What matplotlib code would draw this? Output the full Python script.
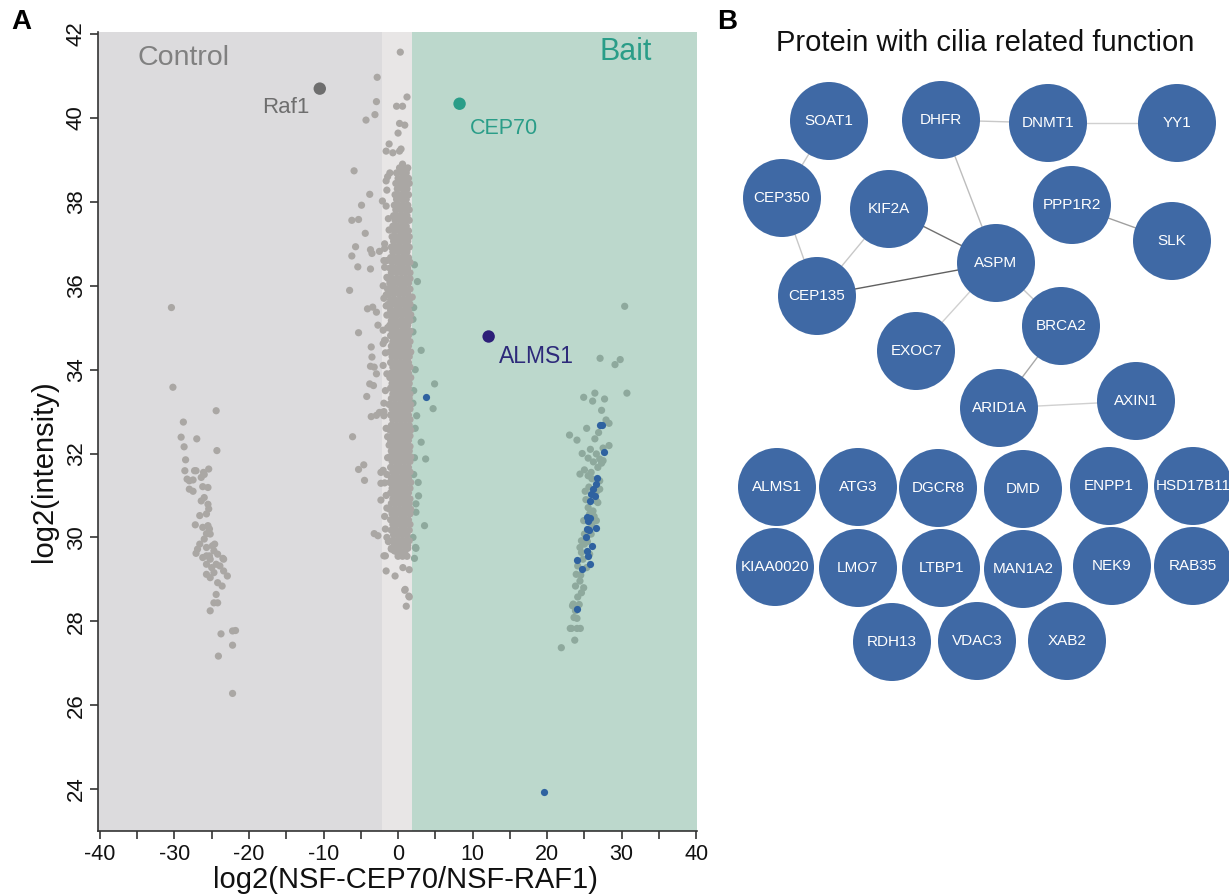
import matplotlib
matplotlib.use("Agg")
import matplotlib.pyplot as plt
import matplotlib.patches as patches
import numpy as np

plt.rcParams['font.family'] = ['Liberation Sans', 'DejaVu Sans']

# thresholds of the shaded regions (log2 ratio)
control_max = -2.2
bait_min = 1.9

# dense core of unchanged proteins: one y per row, x positions in that row
core_row_y = [38.81, 38.69, 38.56, 38.44, 38.31, 38.17, 38.06, 37.92, 37.81, 37.67,
              37.56, 37.42, 37.31, 37.17, 37.06, 36.92, 36.81, 36.67, 36.56, 36.42,
              36.31, 36.17, 36.06, 35.92, 35.81, 35.67, 35.56, 35.42, 35.31, 35.17,
              35.06, 34.92, 34.81, 34.67, 34.56, 34.42, 34.31, 34.17, 34.06, 33.92,
              33.81, 33.67, 33.56, 33.42, 33.31, 33.17, 33.06, 32.92, 32.81, 32.67,
              32.56, 32.42, 32.31, 32.17, 32.06, 31.92, 31.81, 31.67, 31.56, 31.42,
              31.31, 31.17, 31.06, 30.92, 30.81, 30.67, 30.56, 30.42, 30.31, 30.17,
              30.06, 29.92, 29.81, 29.67, 29.55]
core_row_x = [[0.2, 0.8, 1.3], [-0.2, 0.5, 1.1], [0.0, 0.7, 1.4], [-0.3, 0.3, 0.9, 1.5],
              [-0.1, 0.6, 1.2], [-0.4, 0.2, 0.8, 1.4], [-0.2, 0.5, 1.1], [-0.5, 0.1, 0.7, 1.3],
              [-0.3, 0.4, 1.0, 1.5], [-0.6, 0.0, 0.6, 1.2], [-0.4, 0.3, 0.9, 1.5],
              [-0.7, -0.1, 0.5, 1.1], [-0.5, 0.2, 0.8, 1.4], [-0.8, -0.2, 0.4, 1.0, 1.5],
              [-0.6, 0.1, 0.7, 1.3], [-0.9, -0.3, 0.3, 0.9, 1.5], [-0.7, 0.0, 0.6, 1.2],
              [-1.0, -0.4, 0.2, 0.8, 1.4], [-0.8, -0.1, 0.5, 1.1, 1.6],
              [-1.1, -0.5, 0.1, 0.7, 1.3], [-0.9, -0.2, 0.4, 1.0, 1.6],
              [-1.3, -0.7, -0.1, 0.5, 1.1, 1.6], [-1.1, -0.5, 0.2, 0.8, 1.4],
              [-1.4, -0.8, -0.2, 0.4, 1.0, 1.6], [-1.2, -0.6, 0.1, 0.7, 1.3],
              [-1.0, -0.4, 0.3, 0.9, 1.5], [-1.3, -0.7, -0.1, 0.5, 1.1, 1.6],
              [-1.0, -0.3, 0.3, 0.9, 1.4], [-1.2, -0.6, 0.0, 0.6, 1.2, 1.7],
              [-0.9, -0.3, 0.4, 1.0, 1.6], [-1.1, -0.5, 0.1, 0.7, 1.3],
              [-0.8, -0.2, 0.5, 1.1, 1.6], [-1.0, -0.4, 0.2, 0.8, 1.4],
              [-0.7, -0.1, 0.5, 1.1, 1.6], [-0.9, -0.3, 0.3, 0.9, 1.4],
              [-1.1, -0.5, 0.1, 0.7, 1.2, 1.7], [-0.8, -0.2, 0.4, 1.0, 1.5],
              [-1.0, -0.4, 0.2, 0.8, 1.4], [-0.7, -0.1, 0.5, 1.1, 1.6],
              [-0.9, -0.3, 0.3, 0.9, 1.4], [-1.1, -0.5, 0.1, 0.7, 1.2, 1.7],
              [-0.8, -0.2, 0.4, 1.0, 1.5], [-1.0, -0.4, 0.2, 0.8, 1.4],
              [-0.7, -0.1, 0.5, 1.1, 1.6], [-0.9, -0.3, 0.3, 0.9, 1.5],
              [-1.2, -0.5, 0.1, 0.7, 1.2, 1.7], [-0.8, -0.2, 0.4, 1.0, 1.6],
              [-1.0, -0.4, 0.2, 0.8, 1.4], [-0.7, -0.1, 0.5, 1.1, 1.6],
              [-0.9, -0.3, 0.3, 0.9, 1.5], [-1.1, -0.5, 0.1, 0.7, 1.2, 1.7],
              [-0.8, -0.2, 0.4, 1.0, 1.6], [-1.0, -0.4, 0.2, 0.8, 1.4],
              [-0.7, -0.1, 0.5, 1.1, 1.6], [-0.9, -0.3, 0.3, 0.9, 1.5],
              [-1.1, -0.5, 0.1, 0.7, 1.2, 1.7], [-0.8, -0.2, 0.4, 1.0, 1.6],
              [-1.0, -0.4, 0.2, 0.8, 1.4], [-0.7, -0.1, 0.5, 1.1, 1.6],
              [-0.9, -0.3, 0.3, 0.9, 1.4], [-1.1, -0.5, 0.1, 0.7, 1.2, 1.7],
              [-0.8, -0.2, 0.4, 1.0, 1.6], [-1.0, -0.4, 0.2, 0.8, 1.4],
              [-0.7, -0.1, 0.5, 1.1, 1.6], [-0.9, -0.3, 0.3, 0.9, 1.5],
              [-1.1, -0.5, 0.1, 0.7, 1.2, 1.7], [-0.8, -0.2, 0.4, 1.0, 1.6],
              [-1.0, -0.4, 0.2, 0.8, 1.4], [-0.7, -0.1, 0.5, 1.1, 1.6],
              [-0.9, -0.3, 0.3, 0.9, 1.5], [-0.6, 0.0, 0.6, 1.2], [-0.8, -0.2, 0.4, 1.0, 1.5],
              [-0.5, 0.1, 0.7, 1.3], [-0.3, 0.3, 0.9], [0.0, 0.6, 1.2]]

# scattered proteins around the core and in the two outer clusters
other_x = [0.3, -2.8, -2.9, -3.1, -4.3, 1.2, -0.2, 0.6, 0.2, 0.9, 0.0, -1.2, -1.6, -0.7, 0.2,
           0.4, 0.6, 1.1, -1.1, -1.4,
           -5.9, -3.8, -2.1, -1.5, -4.9, -6.2, -5.3, -4.4, -1.2, -5.7, -6.2, -3.7, -3.5, -2.5,
           -1.8, -5.4, -3.7, -1.8, -1.5, -6.5, -4.1, -3.4, -2.9, -1.6, -1.6, -5.3, -2.7, -2.0,
           -1.8, -2.0, -3.6, -3.5, -3.7, -3.2, -2.9, -3.8, -3.3, -4.2, -3.6, -2.9, -2.5, -6.1,
           -5.3, -4.6, -4.5, -2.3, -2.3, -2.3, -3.2, -2.7, -1.9, -0.9, -0.5,
           -1.6, -1.8, -1.5, -1.9, -1.4, -1.7, -1.5, -1.9, -1.6, -1.4, -1.8, -1.5, -1.7, -1.3,
           -1.6, -1.3, -1.2, -1.9, -1.5, -2.0, -1.7, -1.9, -1.4, -2.0, -1.6, -1.8, -1.5, -2.0,
           -1.7, -1.9, -1.5,
           -1.7, -0.9, -0.1, 0.4, 0.9, 1.3, -1.6, -0.4, 0.65, 1.5, 0.9, 1.5, 1.1, 0.95, 1.45,
           2.4, 1.9, 2.1, 3.1, 4.9, 4.7, 3.1, 3.7, 2.7, 2.75, 3.55, 2.35, 2.0, 2.0, 2.3, 2.1,
           2.5, 2.2, 2.4, 2.0, 2.3, 2.6, 2.2, 2.1, 2.4, 2.0, 2.2,
           -30.4, -30.2, -24.4, -28.8, -29.1, -27.0, -28.7, -24.3, -28.5, -28.6, -27.3, -27.1,
           -26.1, -25.4, -28.3, -28.0, -27.5, -26.4, -26.0, -28.0, -27.5, -26.2, -25.5, -26.4,
           -26.0, -25.5, -25.4, -25.7, -26.6, -27.2, -26.2, -25.5, -25.3, -25.7, -25.2, -26.0,
           -26.6, -26.9, -25.7, -24.9, -24.6, -27.1, -26.2, -25.3, -23.5, -25.7, -25.2, -24.7,
           -24.2, -23.4, -25.7, -25.0, -24.4, -23.9, -24.7, -23.4, -22.9, -25.7, -25.2, -24.2,
           -23.6, -24.4, -24.2, -24.7, -25.2, -23.75, -22.2, -21.8, -22.2, -24.1, -22.2,
           30.4, 27.1, 29.1, 29.8, 30.7, 24.9, 26.4, 27.7, 26.1, 27.3, 27.9, 28.3, 23.0, 24.0,
           26.4, 27.5, 28.3, 24.7, 25.5, 26.6, 27.05, 27.5, 27.3, 26.8, 25.0, 24.4, 25.5, 25.9,
           27.05, 26.7, 27.05, 26.6, 26.8, 25.5, 26.15, 25.7, 26.6, 25.0, 25.9, 24.6, 24.4,
           25.0, 24.6, 24.8, 24.1, 25.3, 23.9, 24.4, 23.8, 24.6, 24.1, 23.5, 23.8, 24.0, 23.25,
           24.0, 24.45, 23.7, 21.9, 23.4, 23.1, 23.6, 25.2, 25.6, 26.2, 25.8, 26.0, 25.4, 26.3,
           25.1, 24.9, 25.7, 24.5, 24.9, 24.3, 26.0, 26.9, 25.3]
other_y = [41.57, 40.97, 40.39, 40.08, 39.95, 40.5, 40.28, 40.28, 39.87, 39.83, 39.64, 39.38,
           39.21, 39.17, 39.21, 39.26, 38.9, 38.76, 38.69, 38.6,
           38.74, 38.18, 38.02, 38.28, 37.92, 37.56, 37.58, 37.25, 37.33, 36.93, 36.71, 36.86,
           36.77, 36.82, 36.89, 36.45, 36.4, 36.44, 36.6, 35.89, 35.45, 35.49, 35.37, 35.78,
           35.52, 34.88, 35.06, 34.94, 34.70, 34.62, 34.54, 34.30, 34.08, 34.06, 33.90, 33.66,
           33.62, 33.36, 32.88, 32.91, 32.98, 32.40, 31.62, 31.73, 31.36, 31.55, 31.29, 30.89,
           30.09, 30.04, 29.56, 29.72, 29.68,
           37.9, 37.0, 36.2, 35.7, 35.0, 34.4, 33.9, 33.2, 32.6, 31.9, 31.3, 30.7, 30.2, 29.9,
           38.5, 37.6, 32.2, 36.6, 35.3, 34.1, 33.5, 32.9, 32.4, 31.6, 31.0, 30.5, 30.0, 36.0,
           34.7, 33.0, 31.5,
           29.56, 29.74, 29.68, 29.60, 29.62, 29.74, 29.2, 29.08, 29.28, 29.23, 28.74, 28.58,
           28.36, 28.76, 28.6,
           29.74, 35.73, 35.48, 34.46, 33.66, 33.07, 32.27, 31.87, 31.31, 30.99, 30.28, 29.76,
           35.2, 34.9, 34.0, 33.5, 32.9, 31.9, 30.6, 30.0, 32.6, 36.1, 36.5, 31.5, 30.8, 33.2,
           29.5,
           35.48, 33.58, 33.02, 32.75, 32.39, 32.35, 32.16, 32.07, 31.85, 31.59, 31.59, 31.59,
           31.55, 31.63, 31.39, 31.35, 31.37, 31.43, 31.5, 31.15, 31.1, 31.21, 31.19, 30.87,
           30.95, 30.79, 30.68, 30.56, 30.52, 30.30, 30.24, 30.28, 30.20, 30.09, 30.08, 29.96,
           29.84, 29.72, 29.76, 29.80, 29.84, 29.62, 29.52, 29.56, 29.5, 29.56, 29.48, 29.68,
           29.60, 29.48, 29.36, 29.28, 29.36, 29.32, 29.16, 29.2, 29.08, 29.12, 29.04, 28.92,
           28.84, 28.64, 28.44, 28.44, 28.25, 27.70, 27.77, 27.78, 27.43, 27.17, 26.28,
           35.51, 34.27, 34.12, 34.24, 33.44, 33.34, 33.44, 33.30, 33.25, 33.03, 32.8, 32.72,
           32.44, 32.32, 32.35, 32.13, 32.19, 32.0, 31.89, 31.99, 31.87, 31.83, 31.77, 31.67,
           31.61, 31.51, 31.47, 31.55, 31.35, 31.11, 31.15, 30.87, 30.83, 30.71, 30.63, 30.56,
           30.4, 30.08, 30.08, 29.92, 29.76, 29.84, 29.64, 29.48, 29.32, 29.28, 29.12, 28.96,
           28.84, 28.68, 28.58, 28.41, 28.25, 28.07, 27.83, 27.83, 27.83, 27.55, 27.37, 28.37,
           27.83, 28.09, 30.9, 31.2, 31.8, 32.1, 30.3, 29.9, 30.5, 31.1, 30.4, 29.6, 29.1, 28.8,
           28.4, 31.4, 32.5, 32.6]

# proteins with cilia related function
cilia_x = [3.7, 27.1, 27.36, 27.6, 26.7, 26.6, 26.15, 25.9, 26.4, 25.8, 25.3, 25.8, 25.5,
           25.3, 26.5, 25.6, 25.2, 26.0, 25.3, 25.5, 24.0, 24.7, 25.8, 24.0, 19.6]
cilia_y = [33.34, 32.69, 32.69, 32.04, 31.42, 31.27, 31.15, 31.03, 30.99, 30.87, 30.48, 30.46,
           30.4, 30.2, 30.22, 30.17, 30.0, 29.8, 29.68, 29.56, 29.46, 29.24, 29.36, 28.29, 23.94]

# highlighted proteins
hl_names = ['Raf1', 'CEP70', 'ALMS1']
hl_x = [-10.5, 8.25, 12.15]
hl_y = [40.7, 40.34, 34.79]
hl_colors = ['#6e6e6e', '#2a9d88', '#2d1f78']

# network panel
node_names = ['SOAT1', 'DHFR', 'DNMT1', 'YY1', 'CEP350', 'KIF2A', 'PPP1R2', 'SLK', 'ASPM',
              'CEP135', 'BRCA2', 'EXOC7', 'ARID1A', 'AXIN1',
              'ALMS1', 'ATG3', 'DGCR8', 'DMD', 'ENPP1', 'HSD17B11',
              'KIAA0020', 'LMO7', 'LTBP1', 'MAN1A2', 'NEK9', 'RAB35',
              'RDH13', 'VDAC3', 'XAB2']
node_x = [829, 941, 1048, 1177, 782, 889, 1072, 1172, 996, 817, 1061, 916, 999, 1136,
          777, 858, 938, 1023, 1109, 1193,
          775, 858, 941, 1023, 1112, 1193,
          892, 977, 1067]
node_y = [121, 120, 123, 123, 198, 209, 205, 241, 263, 296, 326, 351, 408, 401,
          487, 487, 488, 489, 486, 486,
          567, 568, 568, 569, 566, 566,
          642, 641, 641]
edges = [('SOAT1', 'CEP350'), ('CEP350', 'CEP135'), ('DHFR', 'DNMT1'), ('DNMT1', 'YY1'),
         ('DHFR', 'ASPM'), ('KIF2A', 'ASPM'), ('KIF2A', 'CEP135'), ('CEP135', 'ASPM'),
         ('PPP1R2', 'SLK'), ('ASPM', 'EXOC7'), ('ASPM', 'BRCA2'), ('BRCA2', 'ARID1A'),
         ('ARID1A', 'AXIN1')]
edge_colors = ['#c8c8c8', '#c8c8c8', '#c8c8c8', '#d0d0d0', '#bdbdbd', '#707070', '#c8c8c8',
               '#606060', '#a0a0a0', '#d0d0d0', '#c8c8c8', '#a8a8a8', '#d0d0d0']

W, H = 1229, 894
fig = plt.figure(figsize=(W / 100, H / 100), dpi=100)

# ---- panel A ----
ax = fig.add_axes([98 / W, 1 - 831 / H, 599 / W, 799 / H])
ax.set_xlim(-40.25, 40.1)
ax.set_ylim(23.0, 42.05)
ax.axvspan(-41, control_max, color='#dcdbdd', lw=0, zorder=0)
ax.axvspan(control_max, bait_min, color='#e8e6e6', lw=0, zorder=0)
ax.axvspan(bait_min, 41, color='#bcd8cc', lw=0, zorder=0)

cx = []
cy = []
for yv, xs in zip(core_row_y, core_row_x):
    for xv in xs:
        cx.append(xv)
        cy.append(yv)
px = np.array(other_x + cx)
py = np.array(other_y + cy)
cols = np.where(px > bait_min, '#8ea99d', '#aaa7a4')
ax.scatter(px, py, s=27, c=cols, lw=0, zorder=2)
ax.scatter(cilia_x, cilia_y, s=27, c='#2f62a0', lw=0, zorder=3)
ax.scatter(hl_x, hl_y, s=80, c=hl_colors, lw=0, zorder=4)

ax.text(-15.0, 40.24, 'Raf1', color='#6e6e6e', fontsize=16, ha='center', va='center')
ax.text(9.6, 39.76, 'CEP70', color='#2a9d88', fontsize=15.5, ha='left', va='center')
ax.text(13.5, 34.32, 'ALMS1', color='#2d2a7a', fontsize=16.5, ha='left', va='center')
ax.text(0.142, 0.967, 'Control', color='#808080', fontsize=20.5, ha='center', va='center',
        transform=ax.transAxes)
ax.text(0.881, 0.975, 'Bait', color='#2a9d88', fontsize=22, ha='center', va='center',
        transform=ax.transAxes)

ax.set_xticks(np.arange(-40, 41, 5))
ax.set_xticklabels([str(v) if v % 10 == 0 else '' for v in range(-40, 41, 5)])
ax.set_yticks(np.arange(24, 43, 2))
for s in ['top', 'right']:
    ax.spines[s].set_visible(False)
for s in ['left', 'bottom']:
    ax.spines[s].set_color('#333333')
    ax.spines[s].set_linewidth(1.2)
ax.tick_params(axis='both', direction='out', length=6, width=1.2, color='#333333',
               labelsize=15.5, labelcolor='#111111')
ax.tick_params(axis='y', labelsize=16, pad=2)
for lab in ax.get_yticklabels():
    lab.set_rotation(90)
    lab.set_va('center')
ax.set_xlabel('log2(NSF-CEP70/NSF-RAF1)', fontsize=21, color='#111111')
ax.set_ylabel('log2(intensity)', fontsize=21, color='#111111')
ax.xaxis.label.set_va('center')
ax.yaxis.label.set_va('center')
ax.xaxis.set_label_coords(0.513, -0.061)
ax.yaxis.set_label_coords(-0.09, 0.45)

# ---- panel B ----
bx = fig.add_axes([730 / W, 0, (W - 730) / W, 1])
bx.set_xlim(730, W)
bx.set_ylim(H, 0)
bx.axis('off')
pos = {n: (x, y) for n, x, y in zip(node_names, node_x, node_y)}
for (a, b), ec in zip(edges, edge_colors):
    bx.plot([pos[a][0], pos[b][0]], [pos[a][1], pos[b][1]], color=ec, lw=1.0, zorder=1)
for n in node_names:
    x, y = pos[n]
    bx.add_patch(patches.Circle((x, y), 39, facecolor='#3f69a5', edgecolor='none', zorder=2,
                                clip_on=False))
    bx.text(x, y, n, color='white', fontsize=11, ha='center', va='center', zorder=3)
bx.text(985, 43, 'Protein with cilia related function', fontsize=21, ha='center',
        va='center', color='#111111')

fig.text(21 / W, 1 - 22 / H, 'A', fontsize=20, fontweight='bold', ha='center', va='center')
fig.text(727 / W, 1 - 22 / H, 'B', fontsize=20, fontweight='bold', ha='center', va='center')

fig.savefig('out.png', dpi=100)
